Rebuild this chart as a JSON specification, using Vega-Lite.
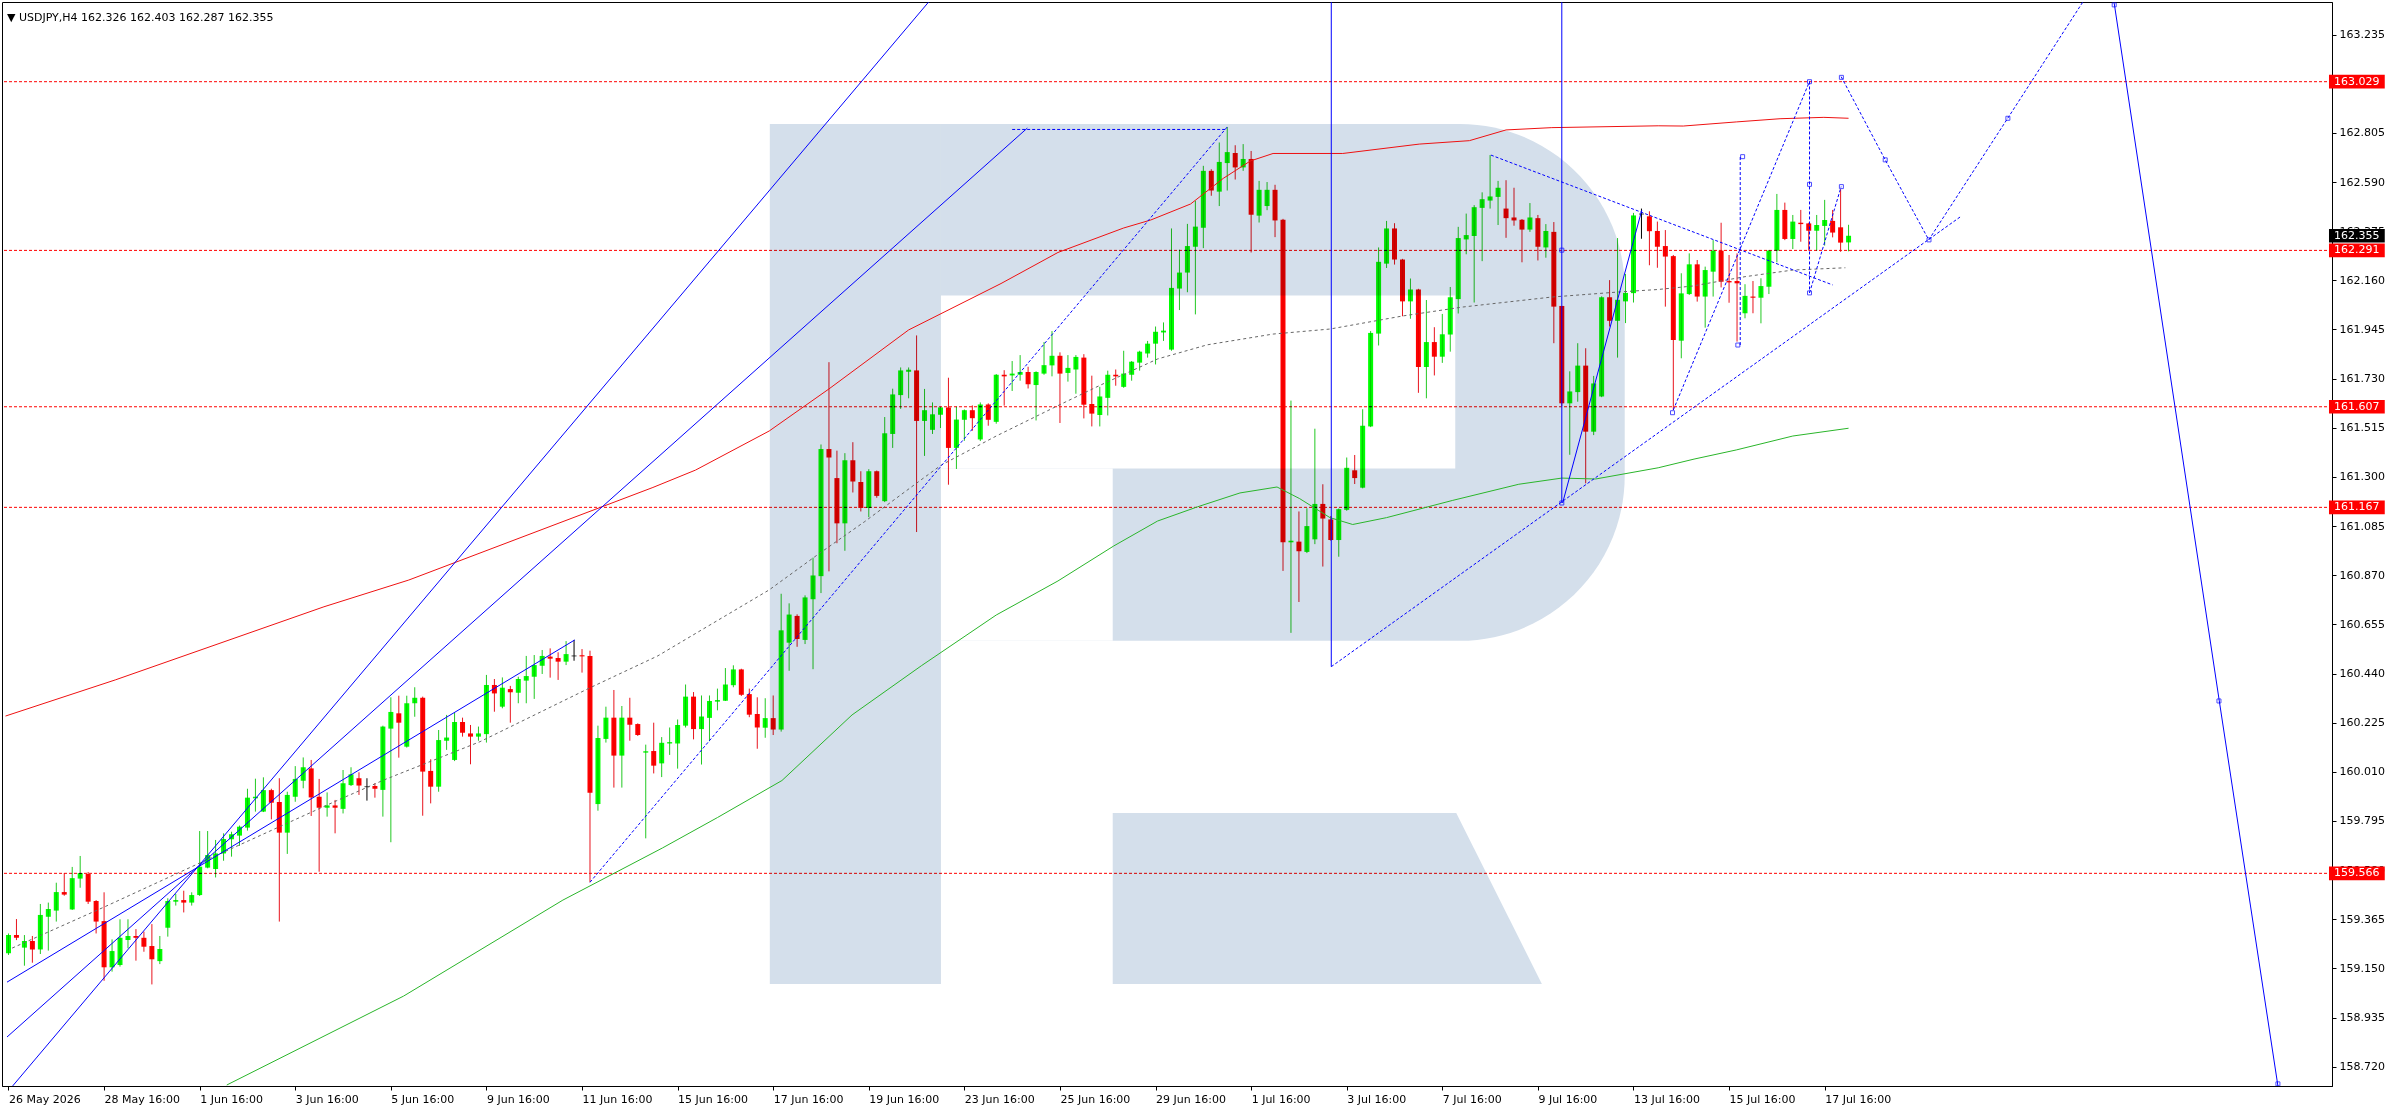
{
  "$schema": "https://vega.github.io/schema/vega-lite/v6.json",
  "width": 2330,
  "height": 1084,
  "autosize": {"type": "none"},
  "padding": {"left": 2, "top": 2, "right": 64, "bottom": 24},
  "background": "#ffffff",
  "title": {
    "text": "▼ USDJPY,H4  162.326 162.403 162.287 162.355",
    "anchor": "start", "frame": "group", "orient": "top", "offset": -16, "dx": 5, "dy": 14,
    "baseline": "alphabetic", "font": "DejaVu Sans", "fontSize": 11, "fontWeight": "normal", "color": "#000000"
  },
  "config": {
    "view": {"stroke": "#000000", "strokeWidth": 1},
    "axis": {"grid": false, "domainColor": "#000000", "tickColor": "#000000", "labelColor": "#000000",
             "labelFont": "DejaVu Sans", "labelFontSize": 11, "tickSize": 4, "labelPadding": 3,
             "labelOverlap": false, "labelFlush": false, "labelBound": false, "zindex": 0}
  },
  "resolve": {"axis": {"x": "independent", "y": "independent"}},
  "datasets": {
    "candles": [
      {"i":0,"o":159.216,"h":159.303,"l":159.209,"c":159.296},{"i":1,"o":159.296,"h":159.366,"l":159.274,"c":159.284},
      {"i":2,"o":159.241,"h":159.296,"l":159.162,"c":159.270},{"i":3,"o":159.270,"h":159.292,"l":159.175,"c":159.233},
      {"i":4,"o":159.233,"h":159.432,"l":159.213,"c":159.384},{"i":5,"o":159.376,"h":159.438,"l":159.228,"c":159.410},
      {"i":6,"o":159.403,"h":159.525,"l":159.355,"c":159.484},{"i":7,"o":159.484,"h":159.567,"l":159.468,"c":159.473},
      {"i":8,"o":159.408,"h":159.594,"l":159.406,"c":159.545},{"i":9,"o":159.543,"h":159.642,"l":159.503,"c":159.567},
      {"i":10,"o":159.563,"h":159.572,"l":159.432,"c":159.442},{"i":11,"o":159.445,"h":159.449,"l":159.303,"c":159.355},
      {"i":12,"o":159.357,"h":159.483,"l":159.096,"c":159.155},{"i":13,"o":159.155,"h":159.277,"l":159.136,"c":159.226},
      {"i":14,"o":159.165,"h":159.365,"l":159.158,"c":159.284},{"i":15,"o":159.274,"h":159.365,"l":159.238,"c":159.292},
      {"i":16,"o":159.292,"h":159.322,"l":159.184,"c":159.284},{"i":17,"o":159.284,"h":159.311,"l":159.223,"c":159.245},
      {"i":18,"o":159.248,"h":159.344,"l":159.080,"c":159.190},{"i":19,"o":159.182,"h":159.292,"l":159.169,"c":159.235},
      {"i":20,"o":159.328,"h":159.457,"l":159.289,"c":159.445},{"i":21,"o":159.442,"h":159.476,"l":159.425,"c":159.449},
      {"i":22,"o":159.449,"h":159.490,"l":159.395,"c":159.438},{"i":23,"o":159.438,"h":159.483,"l":159.425,"c":159.471},
      {"i":24,"o":159.471,"h":159.751,"l":159.467,"c":159.595},{"i":25,"o":159.591,"h":159.751,"l":159.588,"c":159.646},
      {"i":26,"o":159.585,"h":159.712,"l":159.548,"c":159.653},{"i":27,"o":159.653,"h":159.741,"l":159.621,"c":159.716},
      {"i":28,"o":159.715,"h":159.748,"l":159.639,"c":159.737},{"i":29,"o":159.731,"h":159.775,"l":159.686,"c":159.770},
      {"i":30,"o":159.766,"h":159.936,"l":159.753,"c":159.897},{"i":31,"o":159.894,"h":159.980,"l":159.836,"c":159.901},
      {"i":32,"o":159.836,"h":159.986,"l":159.834,"c":159.930},{"i":33,"o":159.930,"h":159.936,"l":159.802,"c":159.875},
      {"i":34,"o":159.878,"h":159.982,"l":159.355,"c":159.744},{"i":35,"o":159.744,"h":159.923,"l":159.651,"c":159.909},
      {"i":36,"o":159.901,"h":160.035,"l":159.879,"c":159.979},{"i":37,"o":159.971,"h":160.073,"l":159.938,"c":160.030},
      {"i":38,"o":160.025,"h":160.062,"l":159.817,"c":159.898},{"i":39,"o":159.901,"h":159.979,"l":159.573,"c":159.853},
      {"i":40,"o":159.853,"h":159.920,"l":159.814,"c":159.863},{"i":41,"o":159.863,"h":159.887,"l":159.741,"c":159.853},
      {"i":42,"o":159.848,"h":160.018,"l":159.828,"c":159.960},{"i":43,"o":159.952,"h":160.030,"l":159.948,"c":159.999},
      {"i":44,"o":159.982,"h":160.008,"l":159.909,"c":159.950},{"i":45,"o":159.945,"h":159.982,"l":159.884,"c":159.945},
      {"i":46,"o":159.948,"h":159.960,"l":159.897,"c":159.936},{"i":47,"o":159.931,"h":160.212,"l":159.814,"c":160.208},
      {"i":48,"o":160.199,"h":160.336,"l":159.702,"c":160.272},{"i":49,"o":160.266,"h":160.343,"l":160.072,"c":160.225},
      {"i":50,"o":160.120,"h":160.343,"l":160.116,"c":160.310},{"i":51,"o":160.310,"h":160.380,"l":160.251,"c":160.334},
      {"i":52,"o":160.334,"h":160.339,"l":159.818,"c":160.011},{"i":53,"o":160.014,"h":160.065,"l":159.872,"c":159.945},
      {"i":54,"o":159.945,"h":160.193,"l":159.923,"c":160.149},{"i":55,"o":160.146,"h":160.259,"l":160.106,"c":160.160},
      {"i":56,"o":160.062,"h":160.269,"l":160.057,"c":160.228},{"i":57,"o":160.228,"h":160.247,"l":160.164,"c":160.181},
      {"i":58,"o":160.178,"h":160.215,"l":160.043,"c":160.164},{"i":59,"o":160.164,"h":160.208,"l":160.146,"c":160.178},
      {"i":60,"o":160.175,"h":160.434,"l":160.138,"c":160.390},{"i":61,"o":160.390,"h":160.416,"l":160.273,"c":160.353},
      {"i":62,"o":160.295,"h":160.423,"l":160.288,"c":160.378},{"i":63,"o":160.372,"h":160.386,"l":160.225,"c":160.358},
      {"i":64,"o":160.356,"h":160.426,"l":160.310,"c":160.416},{"i":65,"o":160.409,"h":160.517,"l":160.310,"c":160.429},
      {"i":66,"o":160.426,"h":160.521,"l":160.329,"c":160.477},{"i":67,"o":160.474,"h":160.543,"l":160.438,"c":160.517},
      {"i":68,"o":160.514,"h":160.550,"l":160.422,"c":160.505},{"i":69,"o":160.508,"h":160.533,"l":160.412,"c":160.492},
      {"i":70,"o":160.492,"h":160.582,"l":160.477,"c":160.525},{"i":71,"o":160.517,"h":160.587,"l":160.496,"c":160.517},
      {"i":72,"o":160.520,"h":160.547,"l":160.444,"c":160.515},{"i":73,"o":160.517,"h":160.540,"l":159.527,"c":159.919},
      {"i":74,"o":159.869,"h":160.212,"l":159.840,"c":160.158},{"i":75,"o":160.154,"h":160.295,"l":160.138,"c":160.247},
      {"i":76,"o":160.247,"h":160.368,"l":159.941,"c":160.081},{"i":77,"o":160.081,"h":160.298,"l":159.941,"c":160.247},
      {"i":78,"o":160.247,"h":160.334,"l":160.146,"c":160.216},{"i":79,"o":160.219,"h":160.222,"l":160.167,"c":160.171},
      {"i":80,"o":160.094,"h":160.129,"l":159.719,"c":160.100},{"i":81,"o":160.101,"h":160.225,"l":160.003,"c":160.037},
      {"i":82,"o":160.047,"h":160.162,"l":159.987,"c":160.137},{"i":83,"o":160.134,"h":160.204,"l":160.084,"c":160.140},
      {"i":84,"o":160.134,"h":160.239,"l":160.024,"c":160.215},{"i":85,"o":160.212,"h":160.392,"l":160.204,"c":160.339},
      {"i":86,"o":160.339,"h":160.359,"l":160.152,"c":160.197},{"i":87,"o":160.197,"h":160.344,"l":160.042,"c":160.252},
      {"i":88,"o":160.246,"h":160.344,"l":160.144,"c":160.320},{"i":89,"o":160.317,"h":160.374,"l":160.279,"c":160.324},
      {"i":90,"o":160.321,"h":160.464,"l":160.320,"c":160.392},{"i":91,"o":160.389,"h":160.476,"l":160.380,"c":160.458},
      {"i":92,"o":160.458,"h":160.461,"l":160.342,"c":160.347},{"i":93,"o":160.350,"h":160.374,"l":160.249,"c":160.260},
      {"i":94,"o":160.263,"h":160.336,"l":160.111,"c":160.204},{"i":95,"o":160.203,"h":160.332,"l":160.159,"c":160.245},
      {"i":96,"o":160.245,"h":160.344,"l":160.171,"c":160.195},{"i":97,"o":160.195,"h":160.789,"l":160.186,"c":160.629},
      {"i":98,"o":160.575,"h":160.747,"l":160.452,"c":160.698},{"i":99,"o":160.692,"h":160.699,"l":160.557,"c":160.591},
      {"i":100,"o":160.587,"h":160.782,"l":160.569,"c":160.773},{"i":101,"o":160.765,"h":160.947,"l":160.459,"c":160.869},
      {"i":102,"o":160.866,"h":161.442,"l":160.792,"c":161.422},{"i":103,"o":161.422,"h":161.802,"l":160.887,"c":161.385},
      {"i":104,"o":161.295,"h":161.415,"l":161.010,"c":161.097},{"i":105,"o":161.097,"h":161.404,"l":160.977,"c":161.373},
      {"i":106,"o":161.373,"h":161.452,"l":161.232,"c":161.280},{"i":107,"o":161.278,"h":161.325,"l":161.149,"c":161.164},
      {"i":108,"o":161.164,"h":161.334,"l":161.124,"c":161.325},{"i":109,"o":161.325,"h":161.328,"l":161.209,"c":161.217},
      {"i":110,"o":161.194,"h":161.562,"l":161.190,"c":161.491},{"i":111,"o":161.488,"h":161.686,"l":161.427,"c":161.661},
      {"i":112,"o":161.658,"h":161.779,"l":161.598,"c":161.766},{"i":113,"o":161.760,"h":161.779,"l":161.644,"c":161.769},
      {"i":114,"o":161.766,"h":161.919,"l":161.059,"c":161.545},{"i":115,"o":161.545,"h":161.685,"l":161.392,"c":161.592},
      {"i":116,"o":161.506,"h":161.626,"l":161.488,"c":161.574},{"i":117,"o":161.572,"h":161.607,"l":161.514,"c":161.604},
      {"i":118,"o":161.604,"h":161.734,"l":161.266,"c":161.427},{"i":119,"o":161.427,"h":161.607,"l":161.335,"c":161.551},
      {"i":120,"o":161.550,"h":161.595,"l":161.458,"c":161.592},{"i":121,"o":161.592,"h":161.613,"l":161.502,"c":161.557},
      {"i":122,"o":161.464,"h":161.626,"l":161.457,"c":161.617},{"i":123,"o":161.617,"h":161.622,"l":161.524,"c":161.550},
      {"i":124,"o":161.541,"h":161.750,"l":161.533,"c":161.747},{"i":125,"o":161.747,"h":161.767,"l":161.612,"c":161.740},
      {"i":126,"o":161.744,"h":161.807,"l":161.676,"c":161.752},{"i":127,"o":161.747,"h":161.833,"l":161.721,"c":161.759},
      {"i":128,"o":161.759,"h":161.782,"l":161.687,"c":161.705},{"i":129,"o":161.702,"h":161.762,"l":161.547,"c":161.759},
      {"i":130,"o":161.752,"h":161.890,"l":161.747,"c":161.789},{"i":131,"o":161.788,"h":161.938,"l":161.740,"c":161.830},
      {"i":132,"o":161.830,"h":161.845,"l":161.536,"c":161.752},{"i":133,"o":161.755,"h":161.833,"l":161.717,"c":161.777},
      {"i":134,"o":161.770,"h":161.833,"l":161.664,"c":161.825},{"i":135,"o":161.822,"h":161.837,"l":161.556,"c":161.616},
      {"i":136,"o":161.619,"h":161.743,"l":161.521,"c":161.577},{"i":137,"o":161.571,"h":161.694,"l":161.521,"c":161.652},
      {"i":138,"o":161.646,"h":161.765,"l":161.569,"c":161.747},{"i":139,"o":161.747,"h":161.770,"l":161.699,"c":161.740},
      {"i":140,"o":161.694,"h":161.852,"l":161.690,"c":161.752},{"i":141,"o":161.747,"h":161.807,"l":161.721,"c":161.804},
      {"i":142,"o":161.800,"h":161.852,"l":161.765,"c":161.848},{"i":143,"o":161.840,"h":161.895,"l":161.822,"c":161.883},
      {"i":144,"o":161.883,"h":161.958,"l":161.792,"c":161.935},{"i":145,"o":161.932,"h":161.976,"l":161.895,"c":161.940},
      {"i":146,"o":161.857,"h":162.387,"l":161.852,"c":162.127},{"i":147,"o":162.124,"h":162.294,"l":162.030,"c":162.194},
      {"i":148,"o":162.194,"h":162.407,"l":162.108,"c":162.310},{"i":149,"o":162.307,"h":162.508,"l":162.011,"c":162.395},
      {"i":150,"o":162.390,"h":162.661,"l":162.301,"c":162.639},{"i":151,"o":162.639,"h":162.646,"l":162.530,"c":162.553},
      {"i":152,"o":162.548,"h":162.763,"l":162.485,"c":162.678},{"i":153,"o":162.673,"h":162.831,"l":162.553,"c":162.721},
      {"i":154,"o":162.717,"h":162.751,"l":162.601,"c":162.654},{"i":155,"o":162.654,"h":162.756,"l":162.639,"c":162.691},
      {"i":156,"o":162.691,"h":162.726,"l":162.282,"c":162.447},{"i":157,"o":162.443,"h":162.595,"l":162.413,"c":162.556},
      {"i":158,"o":162.485,"h":162.590,"l":162.467,"c":162.556},{"i":159,"o":162.556,"h":162.578,"l":162.349,"c":162.422},
      {"i":160,"o":162.425,"h":162.429,"l":160.889,"c":161.014},{"i":161,"o":161.014,"h":161.634,"l":160.618,"c":161.021},
      {"i":162,"o":161.017,"h":161.149,"l":160.753,"c":160.975},{"i":163,"o":160.972,"h":161.163,"l":160.967,"c":161.085},
      {"i":164,"o":161.027,"h":161.511,"l":161.006,"c":161.182},{"i":165,"o":161.182,"h":161.268,"l":160.908,"c":161.118},
      {"i":166,"o":161.114,"h":161.129,"l":161.021,"c":161.024},{"i":167,"o":161.024,"h":161.162,"l":160.951,"c":161.159},
      {"i":168,"o":161.156,"h":161.385,"l":161.152,"c":161.340},{"i":169,"o":161.329,"h":161.396,"l":161.269,"c":161.295},
      {"i":170,"o":161.253,"h":161.596,"l":161.250,"c":161.524},{"i":171,"o":161.521,"h":161.938,"l":161.518,"c":161.930},
      {"i":172,"o":161.927,"h":162.304,"l":161.875,"c":162.241},{"i":173,"o":162.233,"h":162.420,"l":162.214,"c":162.387},
      {"i":174,"o":162.387,"h":162.410,"l":162.229,"c":162.251},{"i":175,"o":162.251,"h":162.254,"l":162.003,"c":162.068},
      {"i":176,"o":162.068,"h":162.168,"l":161.992,"c":162.120},{"i":177,"o":162.120,"h":162.123,"l":161.668,"c":161.781},
      {"i":178,"o":161.781,"h":162.074,"l":161.644,"c":161.890},{"i":179,"o":161.890,"h":161.955,"l":161.744,"c":161.826},
      {"i":180,"o":161.826,"h":162.013,"l":161.799,"c":161.924},{"i":181,"o":161.923,"h":162.131,"l":161.848,"c":162.086},
      {"i":182,"o":162.078,"h":162.394,"l":162.015,"c":162.345},{"i":183,"o":162.339,"h":162.452,"l":162.274,"c":162.358},
      {"i":184,"o":162.354,"h":162.489,"l":162.063,"c":162.480},{"i":185,"o":162.477,"h":162.545,"l":162.244,"c":162.515},
      {"i":186,"o":162.509,"h":162.708,"l":162.474,"c":162.527},{"i":187,"o":162.525,"h":162.595,"l":162.402,"c":162.565},
      {"i":188,"o":162.474,"h":162.598,"l":162.346,"c":162.432},{"i":189,"o":162.435,"h":162.565,"l":162.399,"c":162.422},
      {"i":190,"o":162.425,"h":162.428,"l":162.239,"c":162.382},{"i":191,"o":162.382,"h":162.498,"l":162.372,"c":162.435},
      {"i":192,"o":162.432,"h":162.446,"l":162.247,"c":162.307},{"i":193,"o":162.304,"h":162.406,"l":162.259,"c":162.376},
      {"i":194,"o":162.372,"h":162.415,"l":161.885,"c":162.045},{"i":195,"o":162.048,"h":162.048,"l":161.611,"c":161.622},
      {"i":196,"o":161.622,"h":161.762,"l":161.397,"c":161.674},{"i":197,"o":161.671,"h":161.885,"l":161.629,"c":161.787},
      {"i":198,"o":161.787,"h":161.863,"l":161.272,"c":161.498},{"i":199,"o":161.498,"h":161.742,"l":161.483,"c":161.709},
      {"i":200,"o":161.652,"h":162.090,"l":161.649,"c":162.086},{"i":201,"o":162.086,"h":162.161,"l":161.958,"c":161.983},
      {"i":202,"o":161.983,"h":162.345,"l":161.822,"c":162.075},{"i":203,"o":162.068,"h":162.188,"l":161.973,"c":162.105},
      {"i":204,"o":162.104,"h":162.455,"l":162.063,"c":162.444},{"i":205,"o":162.450,"h":162.474,"l":162.342,"c":162.450},
      {"i":206,"o":162.440,"h":162.462,"l":162.226,"c":162.375},{"i":207,"o":162.376,"h":162.417,"l":162.215,"c":162.307},
      {"i":208,"o":162.310,"h":162.380,"l":162.045,"c":162.264},{"i":209,"o":162.266,"h":162.271,"l":161.593,"c":161.899},
      {"i":210,"o":161.896,"h":162.191,"l":161.819,"c":162.103},{"i":211,"o":162.100,"h":162.278,"l":162.096,"c":162.230},
      {"i":212,"o":162.230,"h":162.249,"l":162.067,"c":162.089},{"i":213,"o":162.089,"h":162.220,"l":161.953,"c":162.205},
      {"i":214,"o":162.198,"h":162.336,"l":162.089,"c":162.290},{"i":215,"o":162.290,"h":162.412,"l":162.129,"c":162.154},
      {"i":216,"o":162.157,"h":162.271,"l":162.062,"c":162.151},{"i":217,"o":162.157,"h":162.278,"l":161.892,"c":162.147},
      {"i":218,"o":162.016,"h":162.143,"l":161.994,"c":162.092},{"i":219,"o":162.089,"h":162.157,"l":162.016,"c":162.084},
      {"i":220,"o":162.084,"h":162.169,"l":161.972,"c":162.135},{"i":221,"o":162.132,"h":162.293,"l":162.100,"c":162.290},
      {"i":222,"o":162.290,"h":162.538,"l":162.239,"c":162.468},{"i":223,"o":162.468,"h":162.500,"l":162.336,"c":162.341},
      {"i":224,"o":162.341,"h":162.446,"l":162.297,"c":162.417},{"i":225,"o":162.412,"h":162.468,"l":162.329,"c":162.406},
      {"i":226,"o":162.409,"h":162.412,"l":162.290,"c":162.377},{"i":227,"o":162.377,"h":162.446,"l":162.290,"c":162.402},
      {"i":228,"o":162.398,"h":162.512,"l":162.312,"c":162.424},{"i":229,"o":162.420,"h":162.468,"l":162.348,"c":162.369},
      {"i":230,"o":162.392,"h":162.558,"l":162.285,"c":162.325},{"i":231,"o":162.326,"h":162.403,"l":162.287,"c":162.355}
    ],
    "ma": [
      {"k":"red","i":-0.375,"p":160.254},{"k":"red","i":13.4,"p":160.412},{"k":"red","i":39.6,"p":160.732},
      {"k":"red","i":50.25,"p":160.849},{"k":"red","i":80.9,"p":161.254},{"k":"red","i":86.25,"p":161.330},
      {"k":"red","i":95.5,"p":161.501},{"k":"red","i":103,"p":161.685},{"k":"red","i":113,"p":161.943},
      {"k":"red","i":124.6,"p":162.146},{"k":"red","i":131.75,"p":162.282},{"k":"red","i":140,"p":162.389},
      {"k":"red","i":143.4,"p":162.424},{"k":"red","i":148.4,"p":162.494},{"k":"red","i":152.5,"p":162.606},
      {"k":"red","i":155.9,"p":162.682},{"k":"red","i":158.75,"p":162.715},{"k":"red","i":167.5,"p":162.715},
      {"k":"red","i":177.1,"p":162.756},{"k":"red","i":183.4,"p":162.771},{"k":"red","i":188,"p":162.818},
      {"k":"red","i":193.75,"p":162.828},{"k":"red","i":207.1,"p":162.836},{"k":"red","i":210.25,"p":162.835},
      {"k":"red","i":216.9,"p":162.853},{"k":"red","i":222.4,"p":162.867},{"k":"red","i":227.9,"p":162.873},
      {"k":"red","i":231,"p":162.869},
      {"k":"green","i":27.4,"p":158.64},{"k":"green","i":49.6,"p":159.029},{"k":"green","i":69.6,"p":159.449},
      {"k":"green","i":82.1,"p":159.677},{"k":"green","i":89,"p":159.810},{"k":"green","i":97.1,"p":159.972},
      {"k":"green","i":105.9,"p":160.259},{"k":"green","i":114.6,"p":160.474},{"k":"green","i":124,"p":160.696},
      {"k":"green","i":131.75,"p":160.845},{"k":"green","i":138.75,"p":160.998},{"k":"green","i":144.25,"p":161.107},
      {"k":"green","i":149.25,"p":161.169},{"k":"green","i":154.6,"p":161.230},{"k":"green","i":159.25,"p":161.256},
      {"k":"green","i":162.1,"p":161.205},{"k":"green","i":165.9,"p":161.122},{"k":"green","i":168.75,"p":161.092},
      {"k":"green","i":173,"p":161.122},{"k":"green","i":181.25,"p":161.197},{"k":"green","i":189.6,"p":161.268},
      {"k":"green","i":195,"p":161.295},{"k":"green","i":199.25,"p":161.291},{"k":"green","i":207.1,"p":161.340},
      {"k":"green","i":211.6,"p":161.378},{"k":"green","i":216.9,"p":161.418},{"k":"green","i":224,"p":161.479},
      {"k":"green","i":231,"p":161.513},
      {"k":"grey","i":0.46,"p":159.239},{"k":"grey","i":12.1,"p":159.420},{"k":"grey","i":23.75,"p":159.607},
      {"k":"grey","i":40.9,"p":159.879},{"k":"grey","i":47.1,"p":159.974},{"k":"grey","i":59.2,"p":160.142},
      {"k":"grey","i":72.96,"p":160.377},{"k":"grey","i":81.5,"p":160.517},{"k":"grey","i":95.5,"p":160.806},
      {"k":"grey","i":101.7,"p":160.963},{"k":"grey","i":107.5,"p":161.105},{"k":"grey","i":114.2,"p":161.278},
      {"k":"grey","i":117.1,"p":161.352},{"k":"grey","i":124,"p":161.479},{"k":"grey","i":131.75,"p":161.612},
      {"k":"grey","i":137.1,"p":161.702},{"k":"grey","i":144.25,"p":161.816},{"k":"grey","i":150.5,"p":161.878},
      {"k":"grey","i":158.75,"p":161.925},{"k":"grey","i":165.9,"p":161.947},{"k":"grey","i":175,"p":162.004},
      {"k":"grey","i":182.5,"p":162.043},{"k":"grey","i":193.75,"p":162.087},{"k":"grey","i":202.1,"p":162.109},
      {"k":"grey","i":207.1,"p":162.120},{"k":"grey","i":211.4,"p":162.135},{"k":"grey","i":218,"p":162.176},
      {"k":"grey","i":224,"p":162.205},{"k":"grey","i":230.6,"p":162.215}
    ],
    "blue": [
      {"s":"P","d":"solid","n":0,"i":0.525,"p":158.636},{"s":"P","d":"solid","n":1,"i":115.5,"p":163.377},
      {"s":"Q","d":"solid","n":0,"i":-0.1875,"p":158.85},{"s":"Q","d":"solid","n":1,"i":127.9,"p":162.826},
      {"s":"R","d":"solid","n":0,"i":-0.1875,"p":159.09},{"s":"R","d":"solid","n":1,"i":71.09,"p":160.587},
      {"s":"V1","d":"solid","n":0,"i":166.06,"p":163.377},{"s":"V1","d":"solid","n":1,"i":166.06,"p":160.47},
      {"s":"V2","d":"solid","n":0,"i":195,"p":163.377},{"s":"V2","d":"solid","n":1,"i":195,"p":161.186},
      {"s":"S2","d":"solid","n":0,"i":195.1,"p":161.186},{"s":"S2","d":"solid","n":1,"i":205.04,"p":162.467},
      {"s":"S1","d":"solid","n":0,"i":264.35,"p":163.372},{"s":"S1","d":"solid","n":1,"i":277.54,"p":160.320},
      {"s":"S1","d":"solid","n":2,"i":284.9,"p":158.636},
      {"s":"T","d":"dot","n":0,"i":126,"p":162.82},{"s":"T","d":"dot","n":1,"i":153,"p":162.82},
      {"s":"G","d":"dot","n":0,"i":73,"p":159.527},{"s":"G","d":"dot","n":1,"i":153,"p":162.831},
      {"s":"D1","d":"dot","n":0,"i":166.06,"p":160.47},{"s":"D1","d":"dot","n":1,"i":245,"p":162.437},
      {"s":"D2","d":"dot","n":0,"i":186.1,"p":162.708},{"s":"D2","d":"dot","n":1,"i":229,"p":162.140},
      {"s":"Z1","d":"dot","n":0,"i":209,"p":161.593},{"s":"Z1","d":"dot","n":1,"i":226.1,"p":163.03},
      {"s":"ZV1","d":"dot","n":0,"i":217.4,"p":161.877},{"s":"ZV1","d":"dot","n":1,"i":217.4,"p":162.701},
      {"s":"ZV2","d":"dot","n":0,"i":226.1,"p":163.03},{"s":"ZV2","d":"dot","n":1,"i":226.1,"p":162.105},
      {"s":"Z2","d":"dot","n":0,"i":226.1,"p":162.105},{"s":"Z2","d":"dot","n":1,"i":230.07,"p":162.570},
      {"s":"P1","d":"dot","n":0,"i":230.07,"p":163.051},{"s":"P1","d":"dot","n":1,"i":235.6,"p":162.687},
      {"s":"P1","d":"dot","n":2,"i":241.07,"p":162.337},
      {"s":"P2","d":"dot","n":0,"i":241.07,"p":162.337},{"s":"P2","d":"dot","n":1,"i":250.98,"p":162.869},
      {"s":"P2","d":"dot","n":2,"i":260.4,"p":163.377}
    ],
    "anchors": [
      {"i":195,"p":162.292},{"i":195,"p":161.186},{"i":217.7,"p":162.701},{"i":217.1,"p":161.877},
      {"i":208.9,"p":161.581},{"i":226.1,"p":163.029},{"i":226.1,"p":162.580},{"i":226.1,"p":162.105},
      {"i":230.1,"p":163.048},{"i":230.1,"p":162.570},{"i":235.6,"p":162.687},{"i":241.1,"p":162.337},
      {"i":251,"p":162.869},{"i":264.35,"p":163.365},{"i":277.5,"p":160.320},{"i":284.9,"p":158.645}
    ],
    "levels": [
      {"p":163.029,"lab":"163.029","kind":"level"},{"p":162.291,"lab":"162.291","kind":"level"},
      {"p":161.607,"lab":"161.607","kind":"level"},{"p":161.167,"lab":"161.167","kind":"level"},
      {"p":159.566,"lab":"159.566","kind":"level"},{"p":162.355,"lab":"162.355","kind":"bid"}
    ],
    "logo": [
      {"part":"stem","i0":95.575,"i1":117.06,"p0":159.082,"p1":162.844},
      {"part":"bowl","i0":117.06,"i1":202.9,"p0":160.5833,"p1":162.844},
      {"part":"hole","i0":117.06,"i1":181.625,"p0":161.337,"p1":162.0933},
      {"part":"hole","i0":117.06,"i1":138.625,"p0":160.5833,"p1":161.337}
    ],
    "leg": [
      {"i":138.625,"p":159.830,"p2":159.082},{"i":181.75,"p":159.830,"p2":159.082},{"i":192.5,"p":159.082,"p2":159.082}
    ]
  },
  "layer": [
    {
      "data": {"name": "logo"},
      "transform": [{"filter": "datum.part == 'stem'"}],
      "mark": {"type": "rect", "color": "#d4dfeb"},
      "encoding": {
        "x": {"field": "i0", "type": "quantitative", "scale": {"domain": [-0.1875, 291.0625], "nice": false, "zero": false}, "axis": null},
        "x2": {"field": "i1"},
        "y": {"field": "p0", "type": "quantitative", "scale": {"domain": [158.6357, 163.3776], "nice": false, "zero": false}, "axis": null},
        "y2": {"field": "p1"}
      }
    },
    {
      "data": {"name": "logo"},
      "transform": [{"filter": "datum.part == 'bowl'"}],
      "mark": {"type": "rect", "color": "#d4dfeb", "cornerRadiusTopRight": 165, "cornerRadiusBottomRight": 165},
      "encoding": {
        "x": {"field": "i0", "type": "quantitative", "scale": {"domain": [-0.1875, 291.0625], "nice": false, "zero": false}, "axis": null},
        "x2": {"field": "i1"},
        "y": {"field": "p0", "type": "quantitative", "scale": {"domain": [158.6357, 163.3776], "nice": false, "zero": false}, "axis": null},
        "y2": {"field": "p1"}
      }
    },
    {
      "data": {"name": "logo"},
      "transform": [{"filter": "datum.part == 'hole'"}],
      "mark": {"type": "rect", "color": "#ffffff"},
      "encoding": {
        "x": {"field": "i0", "type": "quantitative", "scale": {"domain": [-0.1875, 291.0625], "nice": false, "zero": false}, "axis": null},
        "x2": {"field": "i1"},
        "y": {"field": "p0", "type": "quantitative", "scale": {"domain": [158.6357, 163.3776], "nice": false, "zero": false}, "axis": null},
        "y2": {"field": "p1"}
      }
    },
    {
      "data": {"name": "leg"},
      "mark": {"type": "area", "color": "#d4dfeb", "opacity": 1},
      "encoding": {
        "x": {"field": "i", "type": "quantitative", "scale": {"domain": [-0.1875, 291.0625], "nice": false, "zero": false}, "axis": null},
        "y": {"field": "p", "type": "quantitative", "scale": {"domain": [158.6357, 163.3776], "nice": false, "zero": false}, "axis": null},
        "y2": {"field": "p2"}
      }
    },
    {
      "data": {"name": "levels"},
      "transform": [{"filter": "datum.kind == 'level'"}],
      "mark": {"type": "rule", "color": "#ff0000", "strokeWidth": 1, "strokeDash": [3, 2], "blend": "multiply"},
      "encoding": {
        "y": {"field": "p", "type": "quantitative", "scale": {"domain": [158.6357, 163.3776], "nice": false, "zero": false}, "axis": null}
      }
    },
    {
      "data": {"name": "candles"},
      "transform": [{"calculate": "datum.c > datum.o ? 'up' : (datum.c < datum.o ? 'down' : 'doji')", "as": "dir"}],
      "mark": {"type": "rule", "strokeWidth": 1, "blend": "multiply"},
      "encoding": {
        "x": {"field": "i", "type": "quantitative", "scale": {"domain": [-0.1875, 291.0625], "nice": false, "zero": false},
              "axis": {"orient": "bottom", "title": null,
                       "values": [0,12,24,36,48,60,72,84,96,108,120,132,144,156,168,180,192,204,216,228],
                       "labelExpr": "['26 May 2026','28 May 16:00','1 Jun 16:00','3 Jun 16:00','5 Jun 16:00','9 Jun 16:00','11 Jun 16:00','15 Jun 16:00','17 Jun 16:00','19 Jun 16:00','23 Jun 16:00','25 Jun 16:00','29 Jun 16:00','1 Jul 16:00','3 Jul 16:00','7 Jul 16:00','9 Jul 16:00','13 Jul 16:00','15 Jul 16:00','17 Jul 16:00'][round(datum.value/12)]",
                       "labelAlign": "left", "labelBaseline": "top"}},
        "y": {"field": "l", "type": "quantitative", "scale": {"domain": [158.6357, 163.3776], "nice": false, "zero": false},
              "axis": {"orient": "right", "title": null, "format": ".3f",
                       "values": [158.72,158.935,159.15,159.365,159.58,159.795,160.01,160.225,160.44,160.655,160.87,161.085,161.3,161.515,161.73,161.945,162.16,162.375,162.59,162.805,163.235],
                       "labelAlign": "left", "labelBaseline": "middle"}},
        "y2": {"field": "h"},
        "color": {"field": "dir", "type": "nominal", "legend": null,
                  "scale": {"domain": ["up", "down", "doji"], "range": ["#22c922", "#e8141e", "#000000"]}}
      }
    },
    {
      "data": {"name": "candles"},
      "transform": [{"filter": "datum.c > datum.o"}],
      "mark": {"type": "bar", "width": 5, "color": "#00ff00", "blend": "multiply"},
      "encoding": {
        "x": {"field": "i", "type": "quantitative", "scale": {"domain": [-0.1875, 291.0625], "nice": false, "zero": false}, "axis": null},
        "y": {"field": "o", "type": "quantitative", "scale": {"domain": [158.6357, 163.3776], "nice": false, "zero": false}, "axis": null},
        "y2": {"field": "c"}
      }
    },
    {
      "data": {"name": "candles"},
      "transform": [{"filter": "datum.c < datum.o"}],
      "mark": {"type": "bar", "width": 5, "color": "#ff0000", "blend": "multiply"},
      "encoding": {
        "x": {"field": "i", "type": "quantitative", "scale": {"domain": [-0.1875, 291.0625], "nice": false, "zero": false}, "axis": null},
        "y": {"field": "o", "type": "quantitative", "scale": {"domain": [158.6357, 163.3776], "nice": false, "zero": false}, "axis": null},
        "y2": {"field": "c"}
      }
    },
    {
      "data": {"name": "candles"},
      "transform": [{"filter": "datum.c == datum.o"}],
      "mark": {"type": "tick", "orient": "horizontal", "size": 5, "thickness": 1, "color": "#000000"},
      "encoding": {
        "x": {"field": "i", "type": "quantitative", "scale": {"domain": [-0.1875, 291.0625], "nice": false, "zero": false}, "axis": null},
        "y": {"field": "o", "type": "quantitative", "scale": {"domain": [158.6357, 163.3776], "nice": false, "zero": false}, "axis": null}
      }
    },
    {
      "data": {"name": "ma"},
      "transform": [{"filter": "datum.k == 'red'"}],
      "mark": {"type": "line", "color": "#ee1111", "strokeWidth": 1, "clip": true, "blend": "multiply"},
      "encoding": {
        "x": {"field": "i", "type": "quantitative", "scale": {"domain": [-0.1875, 291.0625], "nice": false, "zero": false}, "axis": null},
        "y": {"field": "p", "type": "quantitative", "scale": {"domain": [158.6357, 163.3776], "nice": false, "zero": false}, "axis": null}
      }
    },
    {
      "data": {"name": "ma"},
      "transform": [{"filter": "datum.k == 'green'"}],
      "mark": {"type": "line", "color": "#2ab52a", "strokeWidth": 1, "clip": true, "blend": "multiply"},
      "encoding": {
        "x": {"field": "i", "type": "quantitative", "scale": {"domain": [-0.1875, 291.0625], "nice": false, "zero": false}, "axis": null},
        "y": {"field": "p", "type": "quantitative", "scale": {"domain": [158.6357, 163.3776], "nice": false, "zero": false}, "axis": null}
      }
    },
    {
      "data": {"name": "ma"},
      "transform": [{"filter": "datum.k == 'grey'"}],
      "mark": {"type": "line", "color": "#666666", "strokeWidth": 1, "strokeDash": [3, 3], "clip": true, "blend": "multiply"},
      "encoding": {
        "x": {"field": "i", "type": "quantitative", "scale": {"domain": [-0.1875, 291.0625], "nice": false, "zero": false}, "axis": null},
        "y": {"field": "p", "type": "quantitative", "scale": {"domain": [158.6357, 163.3776], "nice": false, "zero": false}, "axis": null}
      }
    },
    {
      "data": {"name": "blue"},
      "transform": [{"filter": "datum.d == 'solid'"}],
      "mark": {"type": "line", "color": "#0000ff", "strokeWidth": 1, "clip": true, "blend": "multiply"},
      "encoding": {
        "x": {"field": "i", "type": "quantitative", "scale": {"domain": [-0.1875, 291.0625], "nice": false, "zero": false}, "axis": null},
        "y": {"field": "p", "type": "quantitative", "scale": {"domain": [158.6357, 163.3776], "nice": false, "zero": false}, "axis": null},
        "detail": {"field": "s"},
        "order": {"field": "n"}
      }
    },
    {
      "data": {"name": "blue"},
      "transform": [{"filter": "datum.d == 'dot'"}],
      "mark": {"type": "line", "color": "#0000ff", "strokeWidth": 1, "strokeDash": [3, 2], "clip": true, "blend": "multiply"},
      "encoding": {
        "x": {"field": "i", "type": "quantitative", "scale": {"domain": [-0.1875, 291.0625], "nice": false, "zero": false}, "axis": null},
        "y": {"field": "p", "type": "quantitative", "scale": {"domain": [158.6357, 163.3776], "nice": false, "zero": false}, "axis": null},
        "detail": {"field": "s"},
        "order": {"field": "n"}
      }
    },
    {
      "data": {"name": "anchors"},
      "mark": {"type": "point", "shape": "square", "size": 16, "filled": false, "color": "#0000ff", "strokeWidth": 1, "clip": true},
      "encoding": {
        "x": {"field": "i", "type": "quantitative", "scale": {"domain": [-0.1875, 291.0625], "nice": false, "zero": false}, "axis": null},
        "y": {"field": "p", "type": "quantitative", "scale": {"domain": [158.6357, 163.3776], "nice": false, "zero": false}, "axis": null}
      }
    },
    {
      "data": {"name": "levels"},
      "transform": [{"filter": "datum.kind == 'level'"}, {"calculate": "datum.p - 0.03", "as": "b0"}, {"calculate": "datum.p + 0.03", "as": "b1"}],
      "mark": {"type": "rect", "color": "#ff0000"},
      "encoding": {
        "x": {"datum": 291.3125, "type": "quantitative", "scale": {"domain": [-0.1875, 291.0625], "nice": false, "zero": false}, "axis": null},
        "x2": {"datum": 298.3125},
        "y": {"field": "b0", "type": "quantitative", "scale": {"domain": [158.6357, 163.3776], "nice": false, "zero": false}, "axis": null},
        "y2": {"field": "b1"}
      }
    },
    {
      "data": {"name": "levels"},
      "transform": [{"filter": "datum.kind == 'bid'"}, {"calculate": "datum.p - 0.03", "as": "b0"}, {"calculate": "datum.p + 0.03", "as": "b1"}],
      "mark": {"type": "rect", "color": "#000000"},
      "encoding": {
        "x": {"datum": 291.3125, "type": "quantitative", "scale": {"domain": [-0.1875, 291.0625], "nice": false, "zero": false}, "axis": null},
        "x2": {"datum": 298.3125},
        "y": {"field": "b0", "type": "quantitative", "scale": {"domain": [158.6357, 163.3776], "nice": false, "zero": false}, "axis": null},
        "y2": {"field": "b1"}
      }
    },
    {
      "data": {"name": "levels"},
      "mark": {"type": "text", "align": "left", "baseline": "middle", "font": "DejaVu Sans", "fontSize": 11, "color": "#ffffff"},
      "encoding": {
        "x": {"datum": 291.9375, "type": "quantitative", "scale": {"domain": [-0.1875, 291.0625], "nice": false, "zero": false}, "axis": null},
        "y": {"field": "p", "type": "quantitative", "scale": {"domain": [158.6357, 163.3776], "nice": false, "zero": false}, "axis": null},
        "text": {"field": "lab"}
      }
    }
  ]
}
